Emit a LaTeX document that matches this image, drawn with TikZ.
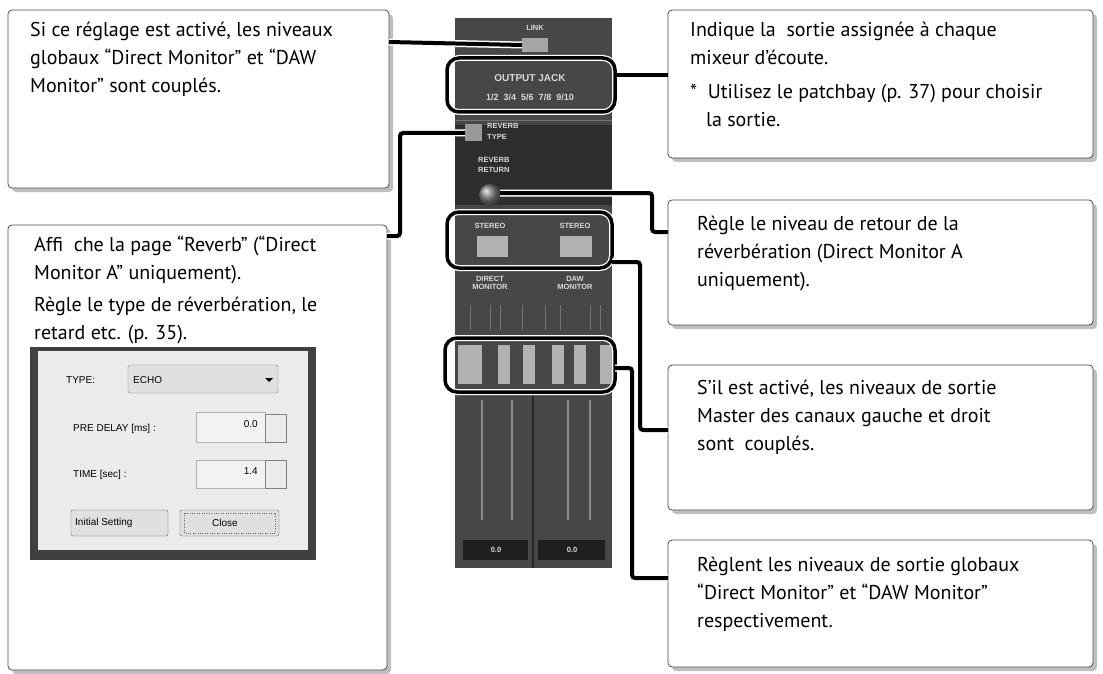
\documentclass[tikz,border=0pt]{standalone}
\usepackage{fontspec}
\setmainfont{PT Sans}
\setsansfont{Liberation Sans}
\begin{document}
\begin{tikzpicture}[x=1pt,y=-1pt,
 box/.style={draw=black!70,line width=0.8pt,rounded corners=4pt,fill=white},
 shadow/.style={fill=black!25,rounded corners=4pt},
 txt/.style={anchor=north west,align=left,font=\fontsize{20}{28}\selectfont,inner sep=0pt},
 conn/.style={line width=4pt,black,rounded corners=3pt},
 hl/.style={draw=white,line width=6pt,rounded corners=12pt},
 hli/.style={draw=black,line width=3.5pt,rounded corners=12pt},
 lab/.style={font=\sffamily\bfseries\fontsize{7.5}{8}\selectfont,text=black!15,inner sep=0pt},
 dlg/.style={font=\sffamily\fontsize{10}{10}\selectfont,inner sep=0pt,anchor=west}]
\useasboundingbox (0,0) rectangle (1103,674);
% boxes
\foreach \a/\b/\c/\d in {8/10/389/188, 8/225/387/670, 668/10/1093/158, 668/200/1093/325, 668/365/1093/510, 668/540/1093/667}{
 \fill[shadow] (\a+4,\b+4) rectangle (\c+4,\d+4);
 \draw[box] (\a,\b) rectangle (\c,\d);}
\coordinate (b1) at (389,42);
\coordinate (b2) at (387,236);
\coordinate (b3) at (668,75);
\coordinate (b4) at (668,232);
\coordinate (b5) at (668,430);
\coordinate (b6) at (668,578);
% texts
\node[txt] (t1) at (30,22) {Si ce réglage est activé, les niveaux\\globaux “Direct Monitor” et “DAW\\Monitor” sont couplés.};
\node[txt] (t2) at (34,236) {Affi\ \ che la page “Reverb” (“Direct\\Monitor A” uniquement).\\[4pt]Règle le type de réverbération, le\\retard etc. (p. 35).};
\node[txt] (t3) at (690,22) {Indique la\ \ sortie assignée à chaque\\mixeur d’écoute.\\[6pt]*\ \ Utilisez le patchbay (p. 37) pour choisir\\\ \ \ la sortie.};
\node[txt] (t4) at (697,216) {Règle le niveau de retour de la\\réverbération (Direct Monitor A\\uniquement).};
\node[txt] (t5) at (697,380) {S’il est activé, les niveaux de sortie\\Master des canaux gauche et droit\\sont\ \ couplés.};
\node[txt] (t6) at (697,557) {Règlent les niveaux de sortie globaux\\“Direct Monitor” et “DAW Monitor”\\respectivement.};
% dialog
\fill[black!75] (30,347) rectangle (316,560);
\fill[black!8] (38,351) rectangle (308,550);
\draw[black!50,rounded corners=2pt,fill=black!12] (128,365) rectangle (278,393);
\node[dlg] (dtype) at (66,380) {TYPE:};
\node[dlg] (decho) at (133,380) {ECHO};
\fill (265,378) -- (273,378) -- (269,382) -- cycle;
\node[dlg] (dpre) at (73,429) {PRE DELAY [ms] :};
\draw[black!30,fill=black!5] (196,412) rectangle (265,442);
\node[dlg,anchor=east] (dpv) at (258,424) {0.0};
\draw[black!50] (265,414) rectangle (286,442);
\node[dlg] (dtime) at (73,475) {TIME [sec] :};
\draw[black!30,fill=black!5] (196,460) rectangle (265,488);
\node[dlg,anchor=east] (dtv) at (258,471) {1.4};
\draw[black!50] (265,460) rectangle (286,488);
\draw[black!60,fill=black!12,rounded corners=2pt] (71,510) rectangle (168,536);
\node[dlg] (dinit) at (75,523) {Initial Setting};
\draw[black!60,fill=black!12,rounded corners=2pt] (180,510) rectangle (279,536);
\draw[black!60,dotted] (184,513) rectangle (275,533);
\node[dlg] (dclose) at (212,523) {Close};
% mixer strip
\fill[black!72] (455,18) rectangle (612,568);
\fill[black!82] (455,125) rectangle (612,205);
\draw[black!55] (455,120) -- (612,120);
\node[lab] (link) at (535,28) {LINK};
\fill[black!35] (522,38) rectangle (548,52);
\node[lab,font=\sffamily\bfseries\fontsize{10}{10}\selectfont] (oj) at (530,78) {OUTPUT JACK};
\node[lab,font=\sffamily\bfseries\fontsize{9}{9}\selectfont] (ojn) at (530,97) {1/2\ \ 3/4\ \ 5/6\ \ 7/8\ \ 9/10};
\fill[black!40] (465,124) rectangle (482,141);
\node[lab,anchor=west] (rt) at (487,126) {REVERB};
\node[lab,anchor=west] (rt2) at (487,137) {TYPE};
\node[lab,anchor=west] (rr) at (478,160) {REVERB};
\node[lab,anchor=west] (rr2) at (478,170) {RETURN};
\shade[ball color=black!50] (490,195) circle (11);
\node[lab] (st1) at (490,226) {STEREO};
\node[lab] (st2) at (575,226) {STEREO};
\fill[black!30] (477,236) rectangle (508,257);
\fill[black!30] (560,236) rectangle (592,257);
\node[lab,align=center] (dm2) at (490,283) {DIRECT\\MONITOR};
\node[lab,align=center] (daw) at (575,283) {DAW\\MONITOR};
\foreach \x in {470,490,500,522,545,560,590,600}{\draw[black!55] (\x,305) -- (\x,330);}
\foreach \x in {455,467,495,520,549,571,597}{\fill[black!30] (\x+3,345) rectangle (\x+15,384);}
\foreach \x in {482,512,568,590}{\draw[black!45,line width=1.5pt] (\x,400) -- (\x,520);}
\draw[black!85,line width=2pt] (533,390) -- (533,568);
\fill[black!88] (463,540) rectangle (528,560);
\fill[black!88] (538,540) rectangle (605,560);
\node[lab] (v1) at (496,550) {0.0};
\node[lab] (v2) at (572,550) {0.0};
% highlights
\foreach \a/\b/\c/\d in {447/58/615/112, 447/212/612/268, 445/338/615/392}{
 \draw[hl] (\a,\b) rectangle (\c,\d); \draw[hli] (\a,\b) rectangle (\c,\d);}
\coordinate (hoj) at (615,75);
\coordinate (hst) at (612,262);
\coordinate (hfd) at (615,368);
\coordinate (plink) at (522,45);
\coordinate (prt) at (465,133);
\coordinate (pkn) at (500,193);
% connectors
\draw[conn,white,line width=7pt] (b1) -- (plink) (b2) -| (400,133) -- (prt) (pkn) -| (652,232) -- (b4) (hst) -| (640,430) -- (b5) (hfd) -| (632,578) -- (b6);
\draw[conn] (b1) -- (plink);
\draw[conn] (hoj) -- (b3);
\draw[conn] (b2) -| (400,133) -- (prt);
\draw[conn] (pkn) -| (652,232) -- (b4);
\draw[conn] (hst) -| (640,430) -- (b5);
\draw[conn] (hfd) -| (632,578) -- (b6);
\end{tikzpicture}
\end{document}
